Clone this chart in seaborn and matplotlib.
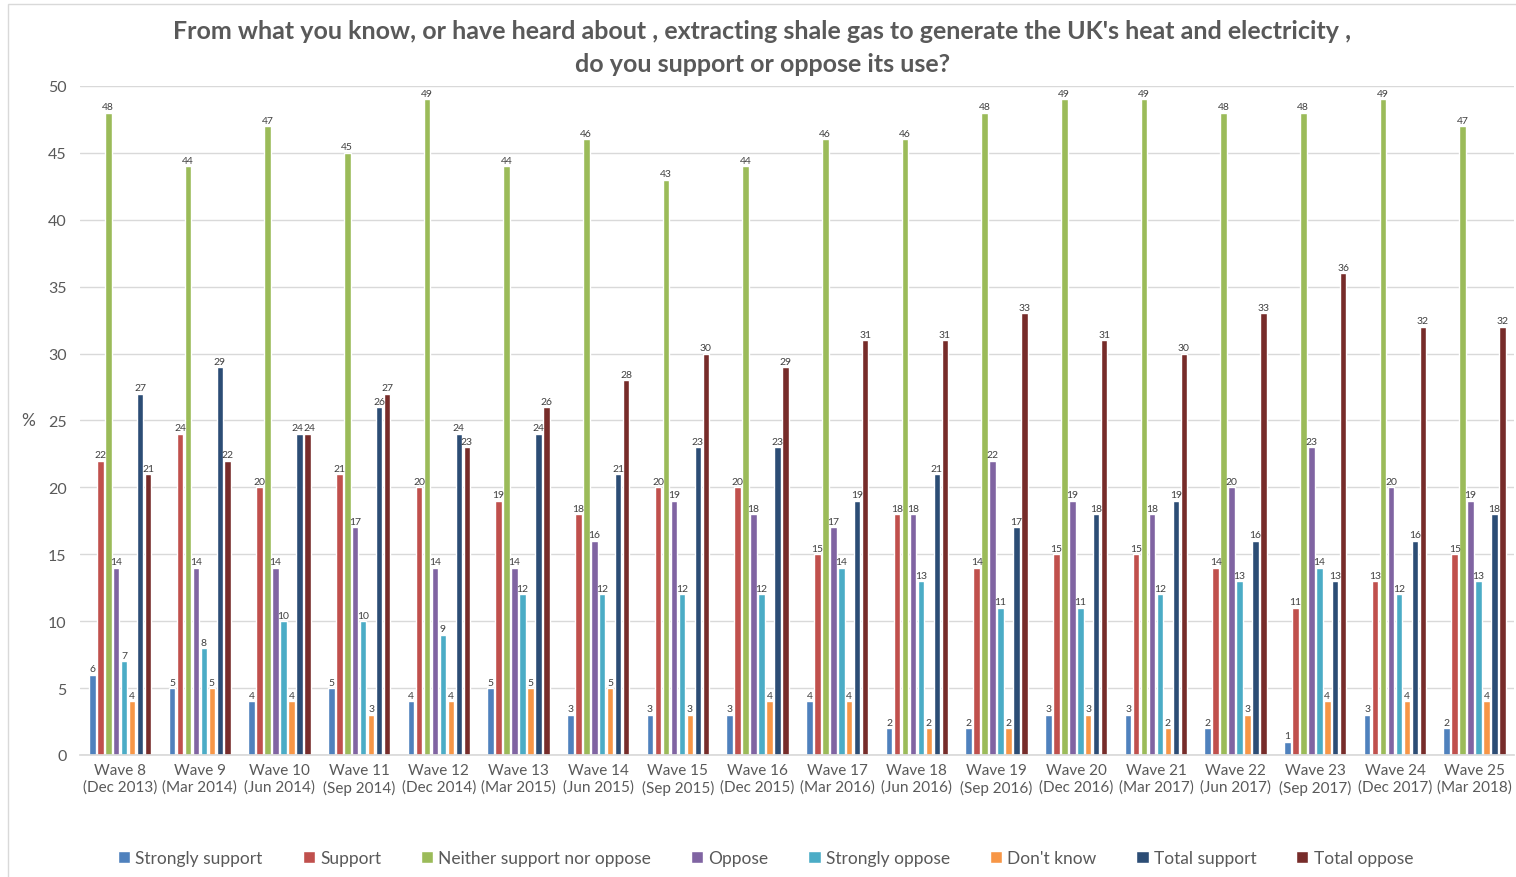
import matplotlib
matplotlib.use("Agg")
import matplotlib.pyplot as plt
import seaborn as sns
import pandas as pd
from matplotlib.patches import Rectangle

waves = ["Wave 8\n(Dec 2013)", "Wave 9\n(Mar 2014)", "Wave 10\n(Jun 2014)", "Wave 11\n(Sep 2014)",
         "Wave 12\n(Dec 2014)", "Wave 13\n(Mar 2015)", "Wave 14\n(Jun 2015)", "Wave 15\n(Sep 2015)",
         "Wave 16\n(Dec 2015)", "Wave 17\n(Mar 2016)", "Wave 18\n(Jun 2016)", "Wave 19\n(Sep 2016)",
         "Wave 20\n(Dec 2016)", "Wave 21\n(Mar 2017)", "Wave 22\n(Jun 2017)", "Wave 23\n(Sep 2017)",
         "Wave 24\n(Dec 2017)", "Wave 25\n(Mar 2018)"]

strongly_support = [6, 5, 4, 5, 4, 5, 3, 3, 3, 4, 2, 2, 3, 3, 2, 1, 3, 2]
support = [22, 24, 20, 21, 20, 19, 18, 20, 20, 15, 18, 14, 15, 15, 14, 11, 13, 15]
neither = [48, 44, 47, 45, 49, 44, 46, 43, 44, 46, 46, 48, 49, 49, 48, 48, 49, 47]
oppose = [14, 14, 14, 17, 14, 14, 16, 19, 18, 17, 18, 22, 19, 18, 20, 23, 20, 19]
strongly_oppose = [7, 8, 10, 10, 9, 12, 12, 12, 12, 14, 13, 11, 11, 12, 13, 14, 12, 13]
dont_know = [4, 5, 4, 3, 4, 5, 5, 3, 4, 4, 2, 2, 3, 2, 3, 4, 4, 4]
total_support = [27, 29, 24, 26, 24, 24, 21, 23, 23, 19, 21, 17, 18, 19, 16, 13, 16, 18]
total_oppose = [21, 22, 24, 27, 23, 26, 28, 30, 29, 31, 31, 33, 31, 30, 33, 36, 32, 32]

responses = ["Strongly support", "Support", "Neither support nor oppose", "Oppose",
             "Strongly oppose", "Don't know", "Total support", "Total oppose"]
colors = ["#4F81BD", "#C0504D", "#9BBB59", "#8064A2",
          "#4BACC6", "#F79646", "#2C4D75", "#772C2A"]
series = [strongly_support, support, neither, oppose,
          strongly_oppose, dont_know, total_support, total_oppose]

rows = []
for resp, vals in zip(responses, series):
    for w, v in zip(waves, vals):
        rows.append({"wave": w, "response": resp, "value": v})
df = pd.DataFrame(rows)

sns.set_theme(style="white")
plt.rcParams["font.family"] = ["Lato", "DejaVu Sans"]

text_gray = "#595959"
fig = plt.figure(figsize=(15.16, 8.78), dpi=100)
ax = fig.add_axes([0.053, 0.139, 0.946, 0.762])

sns.barplot(data=df, x="wave", y="value", hue="response", hue_order=responses,
            order=waves, palette=colors, width=0.8, gap=0.18, ax=ax,
            errorbar=None, saturation=1, legend=True)

# value labels; neighbouring labels at the same height are pushed apart slightly
all_labels = [ax.bar_label(cont, fmt="%d", fontsize=7.5, color="#404040", padding=1)
              for cont in ax.containers[:len(responses)]]
for k in range(len(all_labels) - 1):
    for g in range(len(waves)):
        if series[k][g] == series[k + 1][g] and series[k][g] >= 10:
            left, right = all_labels[k][g], all_labels[k + 1][g]
            left.xyann = (left.xyann[0] - 1.8, left.xyann[1])
            right.xyann = (right.xyann[0] + 1.8, right.xyann[1])

ax.set_ylim(0, 50)
ax.set_xlim(-0.5, len(waves) - 0.5)
ax.set_yticks(range(0, 51, 5))
ax.yaxis.grid(True, color="#D9D9D9", linewidth=1)
ax.set_axisbelow(True)
for side in ["top", "right", "left"]:
    ax.spines[side].set_visible(False)
ax.spines["bottom"].set_color("#D9D9D9")
ax.tick_params(axis="x", length=0, colors=text_gray, labelsize=11, pad=6)
ax.tick_params(axis="y", length=0, colors=text_gray, labelsize=11.5, pad=10)
ax.set_xlabel("")
ax.set_ylabel("%", rotation=0, color=text_gray, fontsize=12.5, labelpad=14, va="center")

fig.suptitle("From what you know, or have heard about , extracting shale gas to generate the UK's heat and electricity ,\n"
             "do you support or oppose its use?",
             x=0.503, y=0.977, fontsize=18, fontweight="bold", color=text_gray, linespacing=1.5)

handles, labels = ax.get_legend_handles_labels()
ax.legend_.remove()
fig.legend(handles, labels, loc="center", bbox_to_anchor=(0.505, 0.022), ncol=8, frameon=False,
           fontsize=12.5, handlelength=0.7, handleheight=0.7, handletextpad=0.3,
           columnspacing=2.3, labelcolor=text_gray)

fig.patches.append(Rectangle((0.005, -0.01), 1.1, 1.004, transform=fig.transFigure,
                             fill=False, edgecolor="#D9D9D9", linewidth=1))

fig.savefig("out.png", dpi=100)
